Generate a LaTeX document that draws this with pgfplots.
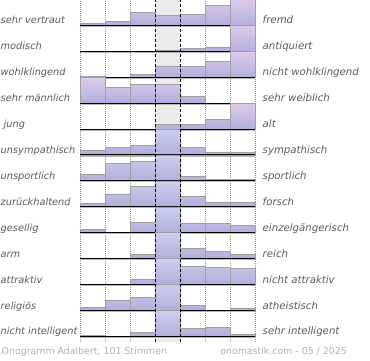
\documentclass[border=0pt]{standalone}
\usepackage{pgfplots}
\pgfplotsset{compat=1.18}
\usepackage{fontspec}
\setmainfont{DejaVu Sans}
\definecolor{labgray}{HTML}{5A5A5A}
\definecolor{footgray}{HTML}{B0B0B0}
\definecolor{colbg}{HTML}{EBEBEB}
\definecolor{lilactop}{HTML}{DECAEA}
\definecolor{lilacmid}{HTML}{CACCEC}
\definecolor{bluetop}{HTML}{CACFEE}
\definecolor{bluemid}{HTML}{C6CBEB}
\definecolor{barbot}{HTML}{B3AEDC}
\definecolor{bargray}{HTML}{A0A0A0}

\pgfplotsset{
  rowaxis/.style={anchor=south west, scale only axis, width=175pt, height=25.93pt,
    xmin=0, xmax=7, ymin=0, ymax=1, hide axis, clip=false},
  rowbar/.style={ybar, bar width=1, bar shift=0pt, draw=bargray, line width=0.5pt},
  lilacbar/.style={top color=lilactop, middle color=lilacmid, bottom color=barbot},
  bluebar/.style={top color=bluetop, middle color=bluemid, bottom color=barbot},
}
\tikzset{
  leftlab/.style={anchor=base west, inner sep=0pt, font=\fontsize{9.8}{11}\selectfont\itshape, text=labgray},
  rightlab/.style={anchor=base west, inner sep=0pt, font=\fontsize{10.2}{11}\selectfont\itshape, text=labgray},
}

\newcommand{\onorow}[5]{%
  \pgfmathsetmacro{\rowbase}{360-(25.3+(#1-1)*25.93)}
  \begin{axis}[rowaxis, at={(80pt,\rowbase pt)}]
    \addplot[rowbar, #4] coordinates {#5};
    \draw[gray!55, line width=0.8pt] (axis cs:0,0) ++(0pt,-1pt) -- ++(175pt,0pt);
    \draw[black, line width=1pt] (axis cs:0,0) -- (axis cs:7,0);
  \end{axis}
  \node[leftlab] at (0.5pt, \rowbase pt + 1.5pt) {#2};
  \node[rightlab] at (262.5pt, \rowbase pt + 1.5pt) {#3};
}

\begin{document}
\begin{tikzpicture}
\useasboundingbox (0pt,0pt) rectangle (370pt,360pt);

% background: column separators and shaded neutral column
\begin{axis}[anchor=south west, at={(80pt,18pt)}, scale only axis, width=175pt, height=342pt,
  xmin=0, xmax=7, ymin=0, ymax=1, axis line style={draw=none},
  xtick={0,1,2,5,6,7}, ytick=\empty, xticklabels={}, major tick length=0pt,
  xmajorgrids, grid style={gray!85, line width=0.7pt, dash pattern=on 1pt off 1pt}]
  \fill[colbg] (axis cs:3,0) rectangle (axis cs:4,1);
\end{axis}

\onorow{1}{sehr vertraut}{fremd}{lilacbar}{(0.5,0.09) (1.5,0.155) (2.5,0.49) (3.5,0.39) (4.5,0.41) (5.5,0.78) (6.5,1.0)}
\onorow{2}{modisch}{antiquiert}{lilacbar}{(0.5,0) (1.5,0) (2.5,0) (3.5,0.05) (4.5,0.12) (5.5,0.17) (6.5,1.0)}
\onorow{3}{wohlklingend}{nicht wohlklingend}{lilacbar}{(0.5,0.04) (1.5,0) (2.5,0.1) (3.5,0.44) (4.5,0.41) (5.5,0.6) (6.5,1.0)}
\onorow{4}{sehr männlich}{sehr weiblich}{lilacbar}{(0.5,1.0) (1.5,0.62) (2.5,0.71) (3.5,0.71) (4.5,0.27) (5.5,0) (6.5,0)}
\onorow{5}{\hspace{3pt}jung}{alt}{lilacbar}{(0.5,0) (1.5,0) (2.5,0) (3.5,0.17) (4.5,0.19) (5.5,0.37) (6.5,1.0)}
\onorow{6}{unsympathisch}{sympathisch}{bluebar}{(0.5,0.17) (1.5,0.28) (2.5,0.37) (3.5,1.0) (4.5,0.28) (5.5,0.12) (6.5,0.12)}
\onorow{7}{unsportlich}{sportlich}{bluebar}{(0.5,0.26) (1.5,0.67) (2.5,0.75) (3.5,1.0) (4.5,0.18) (5.5,0.05) (6.5,0.05)}
\onorow{8}{zurückhaltend}{forsch}{bluebar}{(0.5,0.13) (1.5,0.5) (2.5,0.78) (3.5,1.0) (4.5,0.39) (5.5,0.19) (6.5,0.16)}
\onorow{9}{gesellig}{einzelgängerisch}{bluebar}{(0.5,0.12) (1.5,0) (2.5,0.41) (3.5,1.0) (4.5,0.38) (5.5,0.37) (6.5,0.27)}
\onorow{10}{arm}{reich}{bluebar}{(0.5,0) (1.5,0) (2.5,0.16) (3.5,1.0) (4.5,0.39) (5.5,0.3) (6.5,0.17)}
\onorow{11}{attraktiv}{nicht attraktiv}{bluebar}{(0.5,0) (1.5,0) (2.5,0.22) (3.5,1.0) (4.5,0.71) (5.5,0.65) (6.5,0.62)}
\onorow{12}{religiös}{atheistisch}{bluebar}{(0.5,0.12) (1.5,0.41) (2.5,0.52) (3.5,1.0) (4.5,0.19) (5.5,0) (6.5,0.07)}
\onorow{13}{nicht intelligent}{sehr intelligent}{bluebar}{(0.5,0.05) (1.5,0) (2.5,0.17) (3.5,1.0) (4.5,0.32) (5.5,0.36) (6.5,0.08)}

% overlay: dashed borders of the neutral column
\begin{axis}[anchor=south west, at={(80pt,18pt)}, scale only axis, width=175pt, height=342pt,
  xmin=0, xmax=7, ymin=0, ymax=1, axis line style={draw=none},
  xtick={3,4}, ytick=\empty, xticklabels={}, major tick length=0pt,
  xmajorgrids, grid style={black, line width=1pt, dash pattern=on 3pt off 2pt}]
\end{axis}

\node[anchor=base west, inner sep=0pt, font=\fontsize{9.4}{11}\selectfont, text=footgray] at (1.5pt,5.5pt) {Onogramm Adalbert, 101 Stimmen};
\node[anchor=base east, inner sep=0pt, font=\fontsize{9.4}{11}\selectfont, text=footgray] at (347pt,5.5pt) {onomastik.com - 05 / 2025};
\end{tikzpicture}
\end{document}
